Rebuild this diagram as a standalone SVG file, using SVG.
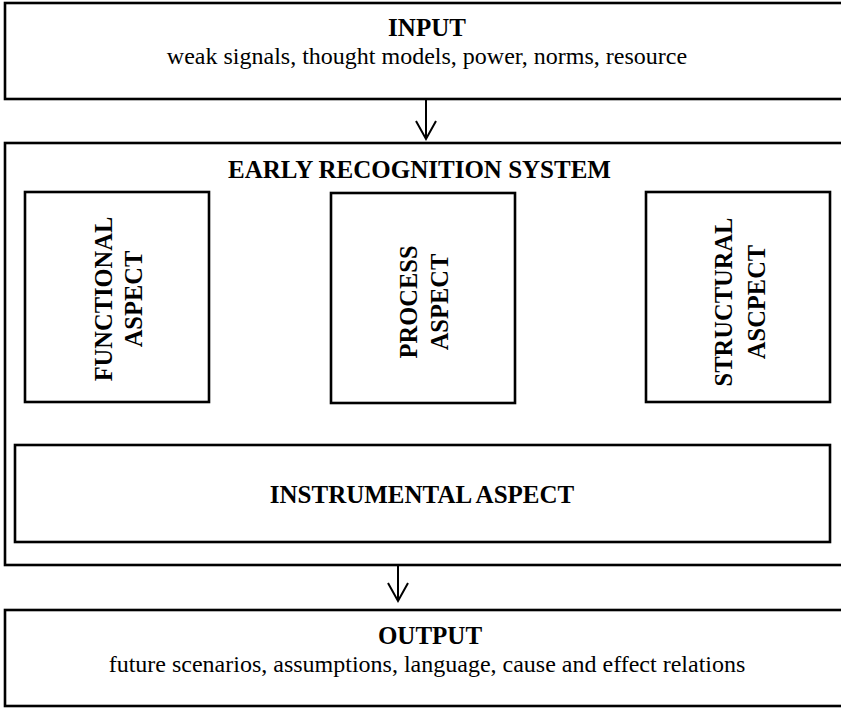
<svg xmlns="http://www.w3.org/2000/svg" width="841" height="708" viewBox="0 0 841 708">
<style>
.box{fill:#fff;stroke:#000;stroke-width:2.6}
.t{font-family:"Liberation Serif","Times New Roman",serif;fill:#000}
.b{font-weight:bold;font-size:25px}
.v{font-weight:bold;font-size:24.5px}
.r{font-size:24px}
.c{fill:none;stroke:#000;stroke-width:2}
</style>
<rect width="841" height="708" fill="#fff"/>
<g id="input">
<rect class="box" x="5" y="3" width="850" height="96"/>
<text class="t b" x="427" y="36" text-anchor="middle">INPUT</text>
<text class="t r" x="427" y="64" text-anchor="middle">weak signals, thought models, power, norms, resource</text>
</g>
<g id="ers">
<rect class="box" x="5" y="143" width="850" height="422"/>
<text class="t b" x="228" y="178">EARLY RECOGNITION SYSTEM</text>
</g>
<g id="functional">
<rect class="box" x="25" y="192" width="184" height="210"/>
<g transform="translate(117,299) rotate(-90)">
<text class="t v" x="0" y="-5" text-anchor="middle">FUNCTIONAL</text>
<text class="t v" x="0" y="25" text-anchor="middle">ASPECT</text>
</g>
</g>
<g id="process">
<rect class="box" x="331" y="193" width="184" height="210"/>
<g transform="translate(423,302) rotate(-90)">
<text class="t v" x="0" y="-6" text-anchor="middle">PROCESS</text>
<text class="t v" x="0" y="25" text-anchor="middle">ASPECT</text>
</g>
</g>
<g id="structural">
<rect class="box" x="646" y="192" width="184" height="210"/>
<g transform="translate(738,302) rotate(-90)">
<text class="t v" x="0" y="-6" text-anchor="middle">STRUCTURAL</text>
<text class="t v" x="0" y="27" text-anchor="middle">ASCPECT</text>
</g>
</g>
<g id="instrumental">
<rect class="box" x="15" y="445" width="815" height="97"/>
<text class="t b" x="422" y="503" text-anchor="middle">INSTRUMENTAL ASPECT</text>
</g>
<g id="output">
<rect class="box" x="5" y="610" width="850" height="96"/>
<text class="t b" x="430" y="644" text-anchor="middle">OUTPUT</text>
<text class="t r" x="427" y="672" text-anchor="middle">future scenarios, assumptions, language, cause and effect relations</text>
</g>
<g id="connectors">
<path class="c" d="M426 100 V139 M416 121 L426 139 L436 121"/>
<path class="c" d="M398 566 V601 M388 583 L398 601 L408 583"/>
</g>
</svg>
